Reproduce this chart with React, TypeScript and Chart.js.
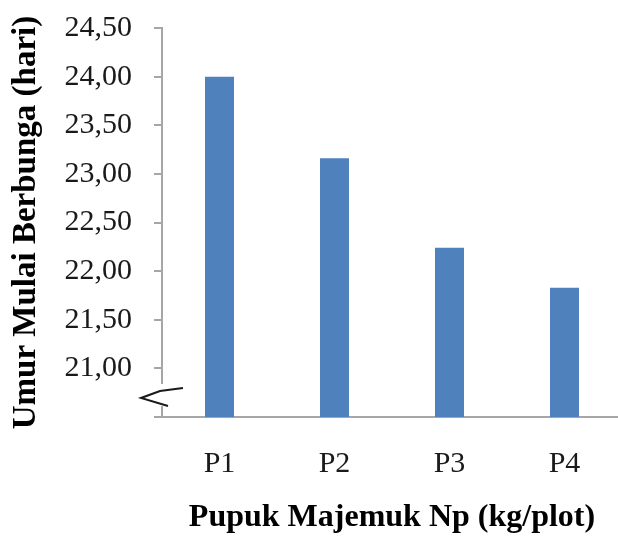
import React, { useEffect, useRef } from 'react';
import { Chart, registerables } from 'chart.js';

Chart.register(...registerables);

const categories = ['P1', 'P2', 'P3', 'P4'];
const values = [24.0, 23.16, 22.24, 21.83];
const yMin = 20.5;
const yMax = 24.5;
const yStep = 0.5;
const yTitle = 'Umur Mulai Berbunga (hari)';
const xTitle = 'Pupuk Majemuk Np (kg/plot)';

const FONT = "'Liberation Serif', 'Times New Roman', serif";
const AXIS_COLOR = '#a6a6a6';

const breakPlugin = {
  id: 'axisBreak',
  afterDraw(chart: any) {
    const ys = chart.scales.y;
    const ctx = chart.ctx;
    const x0 = ys.right;
    const base = ys.getPixelForValue(yMin);
    ctx.save();
    ctx.fillStyle = '#ffffff';
    ctx.fillRect(x0 - 3, base - 33, 6, 22);
    ctx.strokeStyle = '#1a1a1a';
    ctx.lineWidth = 2;
    ctx.lineJoin = 'miter';
    ctx.beginPath();
    ctx.moveTo(x0 + 21, base - 29);
    ctx.lineTo(x0 - 2, base - 26);
    ctx.lineTo(x0 - 21, base - 19);
    ctx.lineTo(x0 + 6, base - 11);
    ctx.stroke();
    ctx.restore();
  },
};

export default function App() {
  const ref = useRef<HTMLCanvasElement | null>(null);

  useEffect(() => {
    if (!ref.current) return;
    const chart = new Chart(ref.current, {
      type: 'bar',
      data: {
        labels: categories,
        datasets: [
          {
            data: values,
            backgroundColor: '#4F81BD',
            borderWidth: 0,
            barPercentage: 0.252,
            categoryPercentage: 1,
          },
        ],
      },
      options: {
        responsive: false,
        animation: false,
        devicePixelRatio: 1,
        layout: { padding: { top: 28, left: 0, right: 0, bottom: 0 } },
        plugins: { legend: { display: false }, tooltip: { enabled: false } },
        scales: {
          x: {
            grid: { display: false, drawTicks: false },
            border: { display: true, color: AXIS_COLOR, width: 2 },
            ticks: { color: '#1a1a1a', font: { family: FONT, size: 30 }, padding: 29 },
            title: {
              display: true,
              text: xTitle,
              color: '#000',
              font: { family: FONT, size: 32, weight: 'bold' },
              padding: { top: 19, bottom: 0 },
            },
            afterFit: (s: any) => {
              s.height = 120;
            },
          },
          y: {
            min: yMin,
            max: yMax,
            grid: {
              drawOnChartArea: false,
              drawTicks: true,
              tickLength: 8,
              color: AXIS_COLOR,
              lineWidth: 2,
            },
            border: { display: true, color: AXIS_COLOR, width: 2 },
            ticks: {
              stepSize: yStep,
              color: '#1a1a1a',
              font: { family: FONT, size: 30 },
              padding: 22,
              callback: (v: any) => {
                const n = Number(v);
                if (Math.abs(n - yMin) < 1e-6) return '';
                return n.toFixed(2).replace('.', ',');
              },
            },
            title: {
              display: true,
              text: yTitle,
              color: '#000',
              font: { family: FONT, size: 33, weight: 'bold' },
              padding: { top: 7, bottom: 0 },
            },
            afterFit: (s: any) => {
              s.width = 162;
              s.paddingTop = 0;
              s.paddingBottom = 0;
            },
          },
        },
      },
      plugins: [breakPlugin],
    });
    return () => chart.destroy();
  }, []);

  return (
    <div
      style={{
        position: 'fixed',
        left: 0,
        top: 0,
        width: 618,
        height: 537,
        overflow: 'hidden',
        background: '#fff',
      }}
    >
      <canvas ref={ref} width={622} height={537} style={{ display: 'block' }} />
    </div>
  );
}
